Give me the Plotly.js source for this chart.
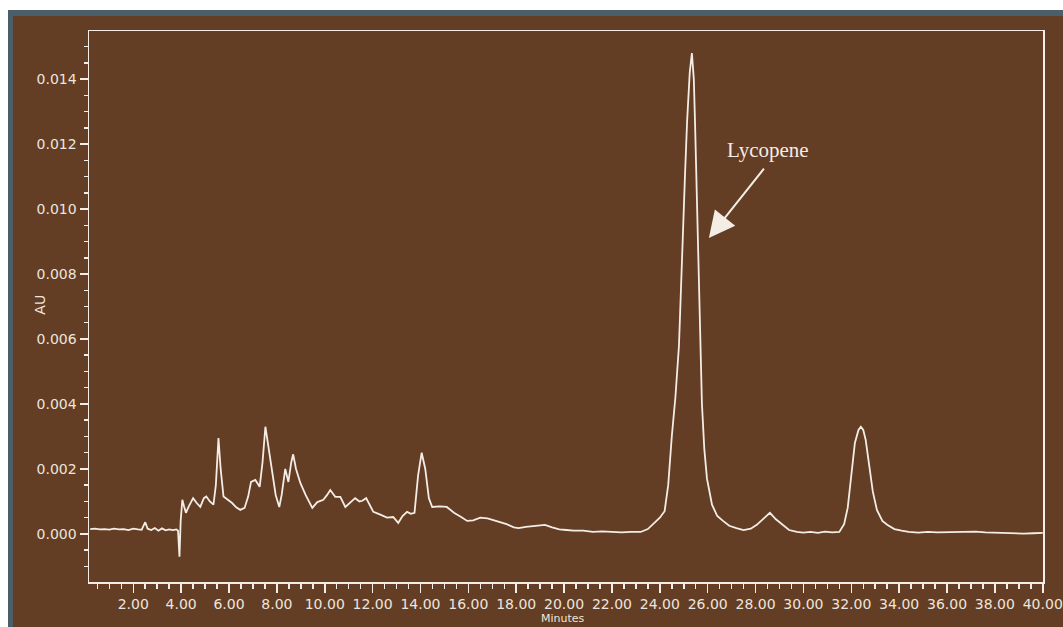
<!DOCTYPE html>
<html>
<head>
<meta charset="utf-8">
<script src="https://cdn.plot.ly/plotly-3.0.1.min.js"></script>
<style>
  html, body { margin: 0; padding: 0; background: #ffffff; overflow: hidden; }
  #slate { position: absolute; left: 8px; top: 10px; width: 1055px; height: 617px; background: #4b5f6a; }
  #brown { position: absolute; left: 13px; top: 16px; width: 1050px; height: 611px; background: #643d25; }
  #chart { position: absolute; left: 0; top: 0; width: 1063px; height: 627px; }
</style>
</head>
<body>
<div id="slate"></div>
<div id="brown"></div>
<div id="chart"></div>
<script>
// Retention time (minutes)
const minutes = [
  0.2, 0.4, 0.6, 0.8, 1.0, 1.2, 1.4, 1.6, 1.8, 2.0, 2.2, 2.35, 2.5, 2.6, 2.75, 2.9, 3.05, 3.2, 3.35, 3.5, 3.65, 3.8, 3.87,
  3.93, 3.98, 4.05, 4.12, 4.2, 4.32, 4.5, 4.65, 4.8, 4.95, 5.05, 5.2, 5.35, 5.45, 5.56, 5.65, 5.77, 5.95, 6.13, 6.3, 6.47,
  6.65, 6.8, 6.92, 7.1, 7.28, 7.4, 7.52, 7.62, 7.8, 7.95, 8.1, 8.2, 8.35, 8.48, 8.6, 8.68, 8.8, 8.98, 9.2, 9.48, 9.69,
  9.94, 10.1, 10.23, 10.44, 10.65, 10.86, 11.05, 11.27, 11.45, 11.57, 11.73, 12.03, 12.3, 12.6, 12.86, 13.07, 13.25,
  13.44, 13.6, 13.75, 13.9, 14.05, 14.2, 14.35, 14.49, 14.8, 15.1, 15.4, 15.7, 15.95, 16.2, 16.5, 16.8, 17.04, 17.3,
  17.6, 17.9, 18.1, 18.4, 18.7, 19.0, 19.2, 19.5, 19.8, 20.1, 20.4, 20.8, 21.2, 21.6, 22.0, 22.4, 22.8, 23.2, 23.5,
  23.8, 24.0, 24.2, 24.35, 24.5, 24.65, 24.8, 24.93, 25.05, 25.14, 25.25, 25.34, 25.42, 25.47, 25.6, 25.68, 25.76,
  25.86, 25.97, 26.18, 26.4, 26.64, 26.9, 27.2, 27.5, 27.8, 28.05, 28.3, 28.6, 28.85, 29.14, 29.4, 29.73, 30.0, 30.3,
  30.6, 30.9, 31.2, 31.5, 31.7, 31.85, 32.0, 32.15, 32.3, 32.4, 32.5, 32.6, 32.75, 32.9, 33.07, 33.3, 33.5, 33.8,
  34.1, 34.4, 34.8, 35.2, 35.6, 36.0, 36.4, 36.8, 37.2, 37.6, 38.0, 38.4, 38.8, 39.2, 39.6, 40.0
];
// Absorbance (AU)
const absorbance = [
  0.00015, 0.00016, 0.00014, 0.00015, 0.00013, 0.00016, 0.00014, 0.00015, 0.00012, 0.00016, 0.00014, 0.00013, 0.00036,
  0.00016, 0.00012, 0.00018, 0.00010, 0.00017, 0.00011, 0.00014, 0.00012, 0.00014, 0.00010,
  -0.00070, 0.00040, 0.00105, 0.00085, 0.00065, 0.00085, 0.00110, 0.00095, 0.00083, 0.00110, 0.00115, 0.00100, 0.00090,
  0.00150, 0.00295, 0.00200, 0.00115, 0.00105, 0.00095, 0.00082, 0.00074,
  0.00080, 0.00115, 0.00160, 0.00166, 0.00145, 0.00220, 0.00330, 0.00280, 0.00190, 0.00120, 0.00083, 0.00120, 0.00200,
  0.00160, 0.00220, 0.00245, 0.00200, 0.00157, 0.00120, 0.00080, 0.00098,
  0.00105, 0.00120, 0.00135, 0.00114, 0.00114, 0.00083, 0.00095, 0.00110, 0.00100, 0.00102, 0.00110, 0.00068, 0.00060,
  0.00050, 0.00052, 0.00034, 0.00055,
  0.00068, 0.00062, 0.00065, 0.00180, 0.00250, 0.00200, 0.00110, 0.00083, 0.00085, 0.00083, 0.00065, 0.00052, 0.00040,
  0.00042, 0.00050, 0.00048, 0.00043, 0.00038,
  0.00030, 0.00020, 0.00018, 0.00022, 0.00025, 0.00028, 0.00028, 0.00020, 0.00014, 0.00012, 0.00010, 0.00010, 0.00006,
  0.00008, 0.00006, 0.00005, 0.00006, 0.00006, 0.00015,
  0.00035, 0.00050, 0.00070, 0.00150, 0.00300, 0.00420, 0.00580, 0.00880, 0.01100, 0.01270, 0.01420, 0.01480, 0.01400,
  0.01270, 0.00880, 0.00620, 0.00400,
  0.00260, 0.00170, 0.00090, 0.00055, 0.00040, 0.00025, 0.00018, 0.00012, 0.00016, 0.00028, 0.00045, 0.00065, 0.00045,
  0.00028, 0.00012, 0.00006, 0.00004, 0.00006,
  0.00003, 0.00007, 0.00005, 0.00006, 0.00030, 0.00080, 0.00180, 0.00280, 0.00320, 0.00330, 0.00320, 0.00290, 0.00210,
  0.00130, 0.00074, 0.00040, 0.00028, 0.00015,
  0.00010, 0.00006, 0.00004, 0.00006, 0.00005, 0.00006, 0.00005, 0.00008, 0.00007, 0.00005, 0.00004, 0.00002, 0.00003,
  0.00001, 0.00002, 0.00003
];
const xTickVals = [2, 4, 6, 8, 10, 12, 14, 16, 18, 20, 22, 24, 26, 28, 30, 32, 34, 36, 38, 40];
const xTickText = ["2.00", "4.00", "6.00", "8.00", "10.00", "12.00", "14.00", "16.00", "18.00", "20.00",
  "22.00", "24.00", "26.00", "28.00", "30.00", "32.00", "34.00", "36.00", "38.00", "40.00"];
const yTickVals = [0.000, 0.002, 0.004, 0.006, 0.008, 0.010, 0.012, 0.014];
const yTickText = ["0.000", "0.002", "0.004", "0.006", "0.008", "0.010", "0.012", "0.014"];
const xTitle = "Minutes";
const yTitle = "AU";
const peakLabel = "Lycopene";
const peakPoint = [26.05, 0.00911];
const peakTail = [28.4, 0.01129];
const peakText = [28.52, 0.01182];

const fg = "#f3ede6";
const tickFont = { family: "DejaVu Sans, sans-serif", size: 14, color: "#ece5dd" };

const trace = {
  x: minutes, y: absorbance, type: "scatter", mode: "lines",
  line: { color: fg, width: 1.8, shape: "linear" },
  hoverinfo: "skip"
};

const layout = {
  width: 1063, height: 627,
  paper_bgcolor: "rgba(0,0,0,0)",
  plot_bgcolor: "rgba(0,0,0,0)",
  margin: { l: 89, r: 20, t: 31, b: 45 },
  showlegend: false,
  xaxis: {
    range: [0.15, 40.01], showgrid: false, zeroline: false,
    showline: true, mirror: true, linecolor: fg, linewidth: 1.5,
    tickmode: "array", tickvals: xTickVals, ticktext: xTickText,
    ticks: "outside", ticklen: 9, tickwidth: 1.5, tickcolor: fg,
    minor: { dtick: 0.5, tick0: 0, ticks: "outside", ticklen: 5, tickwidth: 1.5, tickcolor: fg, showgrid: false },
    tickfont: tickFont,
    automargin: false
  },
  yaxis: {
    range: [-0.00148, 0.01548], showgrid: false, zeroline: false,
    showline: true, mirror: true, linecolor: fg, linewidth: 1.5,
    tickmode: "array", tickvals: yTickVals, ticktext: yTickText,
    ticks: "outside", ticklen: 8, tickwidth: 1.5, tickcolor: fg,
    minor: { dtick: 0.0005, tick0: 0, ticks: "outside", ticklen: 4, tickwidth: 1.5, tickcolor: fg, showgrid: false },
    tickfont: tickFont,
    automargin: false
  },
  annotations: [
    {
      x: -0.062, y: 0.503, xref: "paper", yref: "paper",
      text: yTitle, showarrow: false, textangle: -90,
      font: { family: "DejaVu Sans, sans-serif", size: 14, color: "#ece5dd" }
    },
    {
      x: 0.497, y: -0.053, xref: "paper", yref: "paper", yanchor: "top", borderpad: 0,
      text: xTitle, showarrow: false,
      font: { family: "DejaVu Sans, sans-serif", size: 11, color: "#ece5dd" }
    },
    {
      x: peakText[0], y: peakText[1], xref: "x", yref: "y",
      text: peakLabel, showarrow: false,
      font: { family: "Liberation Serif, Times New Roman, serif", size: 21, color: fg }
    },
    {
      x: peakPoint[0], y: peakPoint[1], xref: "x", yref: "y",
      ax: peakTail[0], ay: peakTail[1], axref: "x", ayref: "y",
      text: "", showarrow: true,
      arrowhead: 2, arrowsize: 2.6, arrowwidth: 2, arrowcolor: fg
    }
  ]
};

Plotly.newPlot("chart", [trace], layout, { displayModeBar: false, staticPlot: true });
</script>
</body>
</html>
